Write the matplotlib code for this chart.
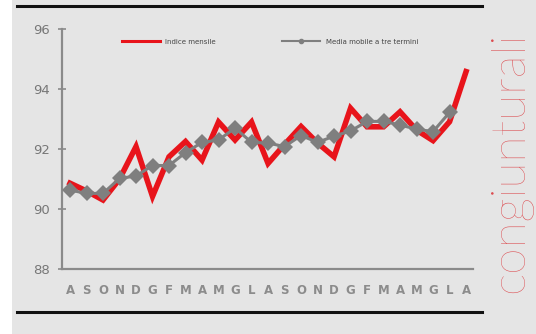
import matplotlib
matplotlib.use("Agg")
import matplotlib.pyplot as plt
import numpy as np
from matplotlib.lines import Line2D

# ── Data ──────────────────────────────────────────────────────────────────────
months = ["A", "S", "O", "N", "D", "G", "F", "M", "A", "M", "G", "L",
          "A", "S", "O", "N", "D", "G", "F", "M", "A", "M", "G", "L", "A"]

indice_mensile = [90.86, 90.6, 90.3, 91.0, 92.08, 90.42, 91.74, 92.25, 91.63,
                  92.9, 92.3, 92.9, 91.52, 92.15, 92.75, 92.2, 91.74, 93.36,
                  92.74, 92.74, 93.24, 92.63, 92.28, 92.91, 94.58]

media_mobile = [90.63, 90.52, 90.52, 91.02, 91.1, 91.45, 91.45, 91.88, 92.22,
                92.3, 92.7, 92.22, 92.2, 92.08, 92.45, 92.22, 92.43, 92.6,
                92.92, 92.92, 92.8, 92.66, 92.58, 93.22]

yticks = [88, 90, 92, 94, 96]

# ── Style ─────────────────────────────────────────────────────────────────────
BG = "#e5e5e5"
RED = "#e8141b"
GREY = "#7f7f7f"
AXIS = "#8a8a8a"

fig = plt.figure(figsize=(5.36, 3.34), dpi=100, facecolor=BG)

# white strip on the left edge
fig.patches.append(plt.Rectangle((0, 0), 12 / 536, 1, transform=fig.transFigure,
                                 facecolor="white", edgecolor="none", zorder=0))

# black rules top and bottom
for y in (1 - 6 / 334, 1 - 312 / 334):
    fig.add_artist(Line2D([17 / 536, 482 / 536], [y, y], color="#111111",
                          linewidth=2.2, transform=fig.transFigure))

ax = fig.add_axes([62 / 536, 1 - 269 / 334, (473 - 62) / 536, (269 - 29) / 334])
ax.set_facecolor(BG)

x = np.arange(len(months))
ax.plot(x, indice_mensile, color=RED, linewidth=4.0, solid_joinstyle="miter",
        zorder=2)
ax.plot(np.arange(len(media_mobile)), media_mobile, color=GREY, linewidth=2.2,
        marker="D", markersize=8.5, markeredgewidth=0, zorder=3)

ax.set_xlim(-0.485, 24.42)
ax.set_ylim(88, 96)
ax.set_yticks(yticks)
ax.set_xticks(x)
ax.set_xticklabels(months)

for side in ("top", "right"):
    ax.spines[side].set_visible(False)
for side in ("left", "bottom"):
    ax.spines[side].set_color(AXIS)
    ax.spines[side].set_linewidth(1.6)

ax.tick_params(axis="y", direction="inout", length=6, width=1.2, color=AXIS,
               labelsize=9.5, labelcolor="#777777", pad=6)
ax.tick_params(axis="x", length=0, labelsize=8.5, labelcolor="#8c8c8c", pad=11)
for lab in ax.get_xticklabels():
    lab.set_fontweight("bold")

handles = [
    Line2D([], [], color=RED, linewidth=2.2),
    Line2D([], [], color=GREY, linewidth=1.5, marker="o", markersize=3),
]
ax.legend(handles, ["Indice mensile", "Media mobile a tre termini"], ncol=2,
          frameon=False, fontsize=5, handlelength=5.5, columnspacing=9.5,
          loc="upper left", bbox_to_anchor=(0.13, 0.985), labelcolor="#444444")

fig.text(0.952, 0.515, "congiunturali", rotation=90, ha="center", va="center",
         fontsize=34.5, color="#dc4a4e", family="Lato", fontweight="light")

fig.savefig("out.png", dpi=100, facecolor=BG)
